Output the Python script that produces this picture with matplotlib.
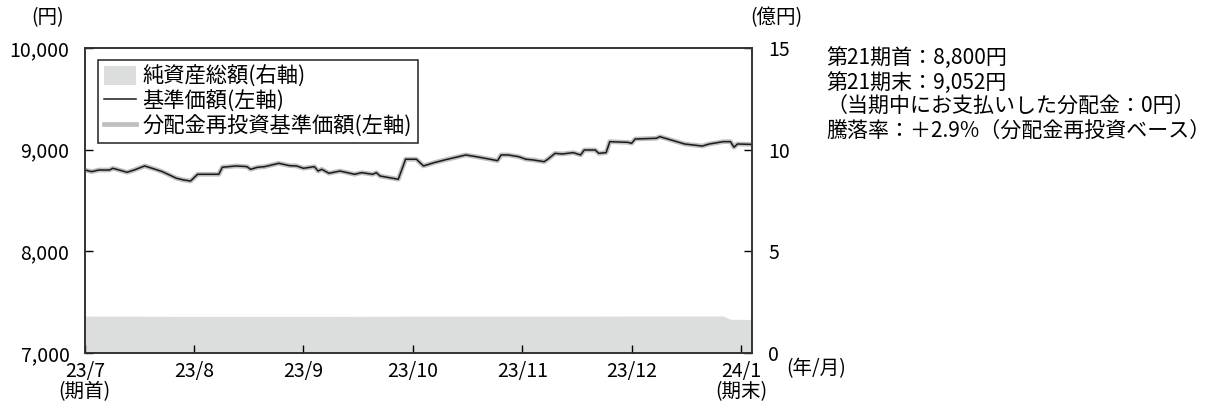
import numpy as np
import pandas as pd
import matplotlib
matplotlib.use("Agg")
import matplotlib.pyplot as plt
from matplotlib.patches import Patch
from matplotlib.lines import Line2D

plt.rcParams["font.family"] = ["Noto Sans CJK JP", "DejaVu Sans"]

# 基準価額 (円)
nav_dates = [
    "2023-07-01", "2023-07-03", "2023-07-05", "2023-07-08", "2023-07-09", "2023-07-13",
    "2023-07-15", "2023-07-18", "2023-07-21", "2023-07-23", "2023-07-27", "2023-07-29",
    "2023-07-31", "2023-08-02", "2023-08-05", "2023-08-08", "2023-08-09", "2023-08-13",
    "2023-08-16", "2023-08-17", "2023-08-19", "2023-08-21", "2023-08-25", "2023-08-28",
    "2023-08-30", "2023-09-01", "2023-09-04", "2023-09-05", "2023-09-06", "2023-09-08",
    "2023-09-11", "2023-09-15", "2023-09-17", "2023-09-20", "2023-09-21", "2023-09-22",
    "2023-09-27", "2023-09-29", "2023-10-02", "2023-10-04", "2023-10-07", "2023-10-10",
    "2023-10-16", "2023-10-19", "2023-10-25", "2023-10-26", "2023-10-28", "2023-10-31",
    "2023-11-02", "2023-11-04", "2023-11-07", "2023-11-08", "2023-11-10", "2023-11-12",
    "2023-11-15", "2023-11-17", "2023-11-18", "2023-11-21", "2023-11-22", "2023-11-24",
    "2023-11-25", "2023-11-30", "2023-12-01", "2023-12-02", "2023-12-08", "2023-12-09",
    "2023-12-16", "2023-12-21", "2023-12-23", "2023-12-27", "2023-12-29", "2023-12-30",
    "2023-12-31", "2024-01-04",
]
nav = [
    8800, 8784, 8800, 8800, 8817, 8778,
    8800, 8840, 8807, 8784, 8719, 8702,
    8692, 8758, 8758, 8758, 8827, 8840,
    8833, 8807, 8827, 8833, 8866, 8843,
    8840, 8817, 8833, 8790, 8807, 8768,
    8790, 8758, 8774, 8758, 8774, 8741,
    8709, 8906, 8906, 8840, 8872, 8899,
    8948, 8931, 8892, 8948, 8948, 8931,
    8906, 8899, 8882, 8906, 8964, 8958,
    8971, 8948, 8997, 8997, 8964, 8971,
    9079, 9072, 9063, 9105, 9112, 9128,
    9056, 9036, 9056, 9079, 9079, 9024,
    9056, 9052,
]
# 分配金再投資基準価額: no distribution paid, so identical to 基準価額
nav_reinvest = list(nav)

# 純資産総額 (億円)
aum_dates = ["2023-07-01", "2023-08-01", "2023-09-01", "2023-10-01", "2023-11-01",
             "2023-12-01", "2023-12-27", "2023-12-29", "2024-01-04"]
aum = [1.82, 1.80, 1.80, 1.81, 1.81, 1.82, 1.82, 1.66, 1.65]

month_labels = ["23/7\n(期首)", "23/8", "23/9", "23/10", "23/11", "23/12", "24/1\n(期末)"]
period_end = "2024-01-04"

notes = [
    "第21期首：8,800円",
    "第21期末：9,052円",
    "（当期中にお支払いした分配金：0円）",
    "騰落率：＋2.9%（分配金再投資ベース）",
]


def month_pos(dates):
    # each calendar month takes the same width on this chart
    d = pd.to_datetime(pd.Series(dates))
    idx = (d.dt.year - 2023) * 12 + d.dt.month - 7
    return (idx + (d.dt.day - 1) / d.dt.days_in_month).to_numpy()


fig = plt.figure(figsize=(12.17, 4.09), dpi=100)
ax = fig.add_axes([0.0696, 0.1369, 0.548, 0.7457])
ax2 = ax.twinx()

ax2.fill_between(month_pos(aum_dates), 0, aum, color="#dcdddd", lw=0)
ax2.set_ylim(0, 15)
ax2.set_yticks([0, 5, 10, 15])

x = month_pos(nav_dates)
ax.plot(x, nav_reinvest, color="#bfbfbf", lw=3.4, solid_capstyle="butt")
ax.plot(x, nav, color="#1a1a1a", lw=1.1)
ax.set_ylim(7000, 10000)
ax.set_yticks([7000, 8000, 9000, 10000])
ax.set_yticklabels([f"{v:,}" for v in [7000, 8000, 9000, 10000]])
ax.set_xlim(0, month_pos([period_end])[0])
ax.set_xticks(range(len(month_labels)))
ax.set_xticklabels(month_labels, linespacing=0.95)

ax.set_zorder(ax2.get_zorder() + 1)
ax.patch.set_visible(False)

for a in (ax, ax2):
    for s in a.spines.values():
        s.set_color("#333333")
        s.set_linewidth(1.2)
ax.tick_params(axis="y", direction="in", length=6, width=1, labelsize=14, pad=11)
ax.tick_params(axis="x", direction="in", length=6, width=1, labelsize=14, pad=6)
ax2.tick_params(axis="y", direction="in", length=6, width=1, labelsize=14, pad=12)

handles = [
    Patch(facecolor="#dcdddd", edgecolor="none"),
    Line2D([], [], color="#1a1a1a", lw=1.1),
    Line2D([], [], color="#bfbfbf", lw=3.4),
]
labels = ["純資産総額(右軸)", "基準価額(左軸)", "分配金再投資基準価額(左軸)"]
leg = ax.legend(handles, labels, loc="upper left", bbox_to_anchor=(0.02, 0.961),
                borderaxespad=0, fontsize=15.3, handlelength=1.5, handleheight=1.0,
                handletextpad=0.3, labelspacing=0.12, borderpad=0.28,
                fancybox=False, framealpha=1)
leg.get_frame().set_edgecolor("#333333")
leg.get_frame().set_linewidth(1.2)

fig.text(48 / 1217, 1 - 18 / 409, "(円)", ha="center", va="center", fontsize=14)
fig.text(776 / 1217, 1 - 18 / 409, "(億円)", ha="center", va="center", fontsize=14)
fig.text(816 / 1217, 1 - 369 / 409, "(年/月)", ha="center", va="center", fontsize=14)

for i, line in enumerate(notes):
    fig.text(826 / 1217, 1 - (58 + 24.5 * i) / 409, line, ha="left", va="center", fontsize=15.1)

fig.savefig("out.png", dpi=100)
